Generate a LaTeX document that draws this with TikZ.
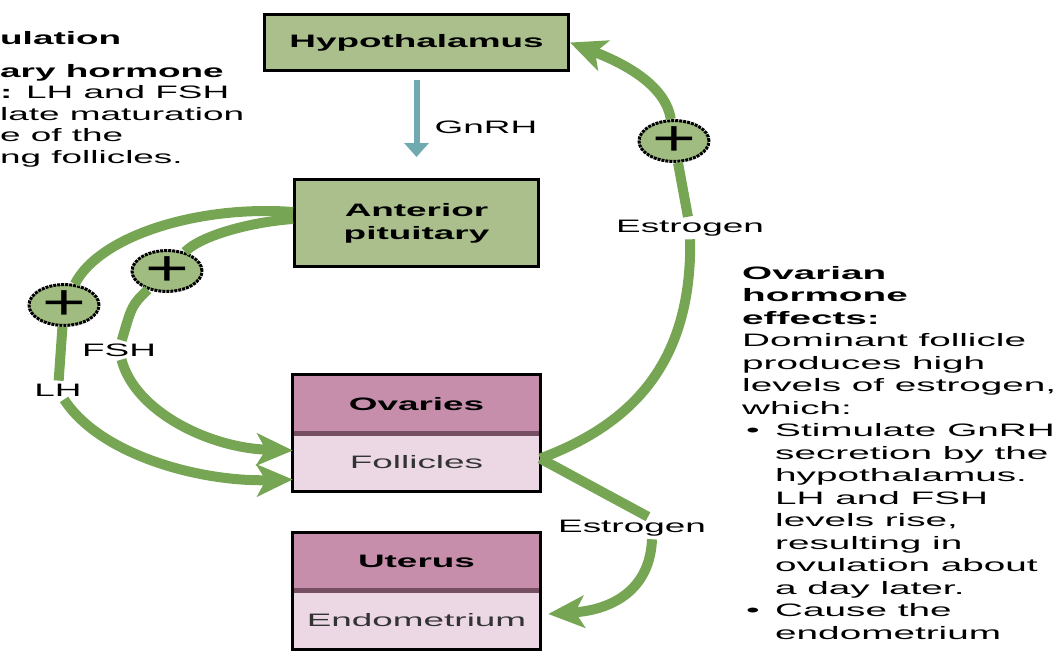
\documentclass[tikz,border=0pt]{standalone}
\usepackage{fontspec}
\setmainfont{Liberation Sans}[FakeStretch=2.05]
\newfontfamily\ovarfont{Liberation Sans}[FakeStretch=2.15]
\newfontfamily\plusfont{Liberation Sans}[FakeStretch=1.5]
\usepackage{xcolor}
\usepackage{tikz}
\usetikzlibrary{arrows.meta,shapes.geometric}

\definecolor{boxgreen}{RGB}{170,191,140}
\definecolor{plusgreen}{RGB}{160,188,128}
\definecolor{arrowgreen}{RGB}{118,166,84}
\definecolor{gnrhteal}{RGB}{112,170,176}
\definecolor{ovarytop}{RGB}{198,142,170}
\definecolor{ovarybot}{RGB}{236,216,229}
\definecolor{ovaryline}{RGB}{118,80,98}

\tikzset{
	organ/.style={draw=black,line width=3pt,fill=boxgreen,minimum width=244pt,align=center,
		font=\fontsize{18}{23}\selectfont\bfseries},
	tophalf/.style={fill=ovarytop,minimum width=247pt,minimum height=58pt,
		font=\fontsize{18}{23}\selectfont\bfseries},
	bothalf/.style={fill=ovarybot,minimum width=247pt,minimum height=58pt,
		font=\fontsize{18}{23}\selectfont,text=black!80},
	greenline/.style={draw=arrowgreen,line width=10pt},
	greenarrow/.style={greenline,-{Stealth[length=36pt,width=32pt,inset=9pt]}},
	plus/.style={ellipse,draw=black,densely dotted,line width=3pt,fill=plusgreen,
		minimum width=70pt,minimum height=35pt,inner sep=0pt,
		font=\plusfont\fontsize{50}{50}\selectfont},
	hormone/.style={font=\fontsize{18}{22}\selectfont,inner sep=3pt}
}

\begin{document}
\begin{tikzpicture}[x=1pt,y=-1pt]
	\useasboundingbox (0,0) rectangle (1064,656);
	% Các hộp
	\node[organ,minimum width=304pt,minimum height=56pt] (hyp) at (416.5,42.5) {Hypothalamus};
	\node[organ,minimum height=87pt] (ant) at (416.5,223) {Anterior\\pituitary};
	\node[tophalf] (ova) at (416.5,404) {Ovaries};
	\node[bothalf] (fol) at (416.5,462.5) {Follicles};
	\node[tophalf] (ute) at (416.5,561.5) {Uterus};
	\node[bothalf] (endo) at (416.5,620) {Endometrium};
	\draw[ovaryline,line width=5pt] (ova.south west) -- (ova.south east);
	\draw[ovaryline,line width=5pt] (ute.south west) -- (ute.south east);
	\draw[line width=3pt] (ova.north west) rectangle (fol.south east);
	\draw[line width=3pt] (ute.north west) rectangle (endo.south east);
	% Dấu cộng và nhãn
	\foreach \n/\x/\y in {pLH/64/305,pFSH/167/271,pE/674/141}
		\node[plus] (\n) at (\x,\y) {+};
	\node[hormone] (lGnRH) at (486,127) {GnRH};
	\node[hormone] (lLH) at (58,390) {LH};
	\node[hormone] (lFSH) at (119,350) {FSH};
	\node[hormone] (lE1) at (690,228) {Estrogen};
	\node[hormone] (lE2) at (632,528) {Estrogen};
	% GnRH
	\draw[gnrhteal,line width=6pt,-{Triangle[length=14pt,width=24pt]}] ([yshift=-8pt]hyp.south) -- ([yshift=21pt]ant.north);
	% LH
	\draw[greenline] ([yshift=11pt]ant.west) .. controls (200,205) and (100,235) .. (pLH);
	\draw[greenline] (pLH) -- (lLH);
	\draw[greenarrow] (lLH) .. controls (100,455) and (200,482) .. ([yshift=-17pt]fol.west);
	% FSH
	\draw[greenline] ([yshift=4pt]ant.west) .. controls (250,222) and (200,236) .. (pFSH);
	\draw[greenline] (pFSH) .. controls (132,305) .. (lFSH);
	\draw[greenarrow] (lFSH) .. controls (135,412) and (210,448) .. ([yshift=12pt]fol.west);
	% Estrogen
	\draw[greenline] ([yshift=4pt]fol.east) .. controls (630,425) and (692,365) .. (lE1);
	\draw[greenline] (lE1) -- (pE);
	\draw[greenarrow] (pE) .. controls (665,80) and (610,58) .. (hyp.east);
	\draw[greenline] ([yshift=4pt]fol.east) -- ([xshift=16pt]lE2.north);
	\draw[greenarrow] ([xshift=20pt]lE2.south) .. controls (650,590) and (612,610) .. ([shift={(8pt,6pt)}]endo.east);
	% Chú thích
	\node[anchor=base west,inner sep=0pt,font=\fontsize{18}{22}\selectfont\bfseries] (stim) at (0,44) {ulation};
	\node[anchor=north west,inner sep=0pt,align=left,font=\fontsize{18}{21.5}\selectfont] (pitu) at (0,64)
		{\textbf{ary hormone}\\\textbf{:} LH and FSH\\late maturation\\e of the\\ng follicles.};
	\node[anchor=north west,inner sep=0pt,align=left,font=\ovarfont\fontsize{18}{22.5}\selectfont] (effects) at (742,266)
		{\textbf{Ovarian}\\\textbf{hormone}\\\textbf{effects:}\\Dominant follicle\\produces high\\levels of estrogen,\\which:\\
		\makebox[33pt][l]{\hspace{4pt}\textbullet}Stimulate GnRH\\\hspace*{33pt}secretion by the\\\hspace*{33pt}hypothalamus.\\
		\hspace*{33pt}LH and FSH\\\hspace*{33pt}levels rise,\\\hspace*{33pt}resulting in\\\hspace*{33pt}ovulation about\\
		\hspace*{33pt}a day later.\\\makebox[33pt][l]{\hspace{4pt}\textbullet}Cause the\\\hspace*{33pt}endometrium};
\end{tikzpicture}
\end{document}
